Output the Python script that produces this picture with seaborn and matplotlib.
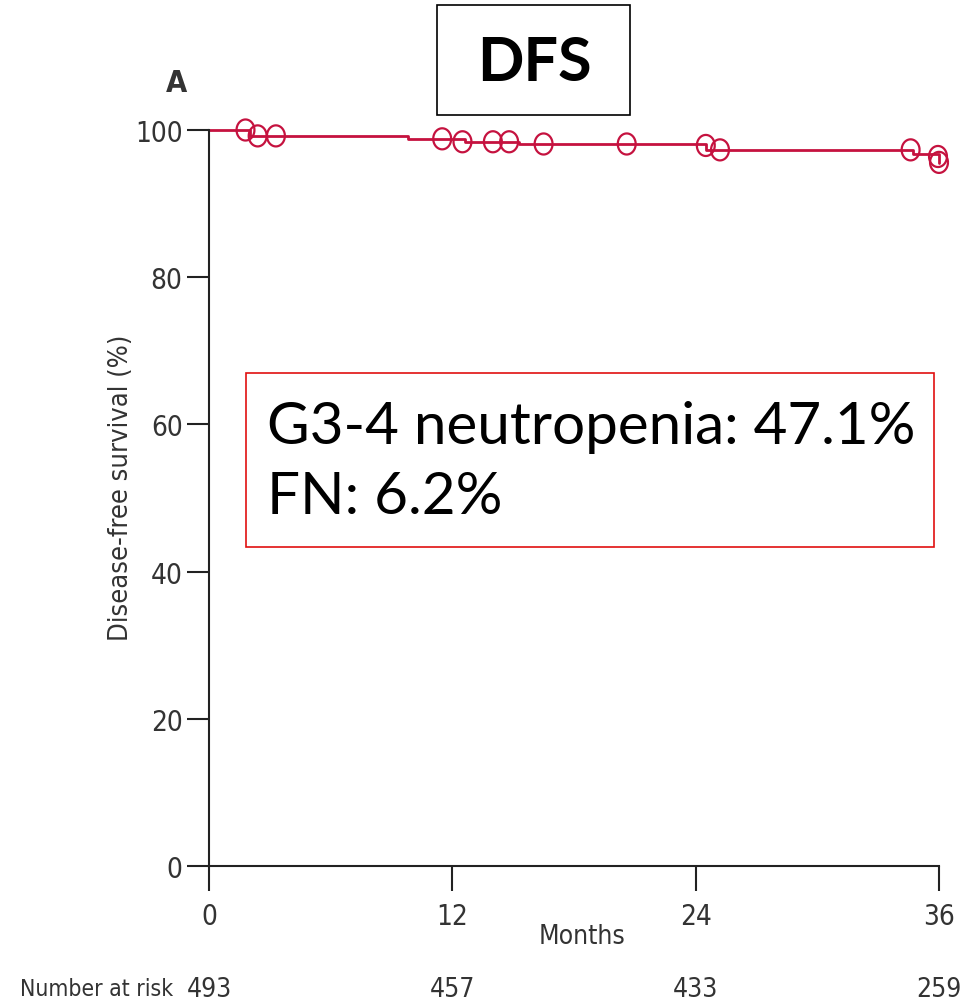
import matplotlib
matplotlib.use("Agg")
import matplotlib.pyplot as plt
import matplotlib.transforms as mtransforms
from matplotlib.patches import Rectangle
from matplotlib.path import Path
import numpy as np
import seaborn as sns
import pandas as pd

sns.set_theme(style="white")
plt.rcParams['font.family'] = ['DejaVu Sans']
plt.rcParams['font.stretch'] = 'condensed'

# ---- data ----
step_months = [0, 2.0, 9.8, 12.6, 15.3, 24.5, 34.7, 36.0]
step_surv = [100.0, 99.2, 98.8, 98.4, 98.1, 97.3, 96.8, 95.5]
censor_months = [1.8, 2.4, 3.3, 11.5, 12.5, 14.0, 14.8, 16.5, 20.6, 24.5, 25.2, 34.6, 35.95, 36.0]
censor_surv = [100.0, 99.2, 99.2, 98.8, 98.4, 98.4, 98.4, 98.1, 98.1, 97.9, 97.3, 97.3, 96.4, 95.6]
xticks = [0, 12, 24, 36]
yticks = [0, 20, 40, 60, 80, 100]
at_risk = [493, 457, 433, 259]

curve_color = "#C5123F"
W, H = 963, 1004

# slightly tall ellipse marker like the reference
th = np.linspace(0, 2 * np.pi, 60)
ellipse = Path(np.column_stack([0.85 * np.cos(th), np.sin(th)]))

fig = plt.figure(figsize=(W / 100, H / 100), dpi=100)
ax = fig.add_axes([209 / W, 1 - 867 / H, 730 / W, 736 / H])

steps = pd.DataFrame({"month": step_months + [36.0], "surv": step_surv + [step_surv[-1]]})
sns.lineplot(data=steps, x="month", y="surv", drawstyle="steps-post", color=curve_color,
             linewidth=2.0, ax=ax, clip_on=False)
cens = pd.DataFrame({"month": censor_months, "surv": censor_surv})
sns.scatterplot(data=cens, x="month", y="surv", marker=ellipse, s=230, facecolor="none",
                edgecolor=curve_color, linewidth=1.6, ax=ax, clip_on=False, zorder=5)

ax.set_xlim(0, 36)
ax.set_ylim(0, 100)
ax.set_xticks(xticks)
ax.set_yticks(yticks)
ax.set_xticklabels([str(t) for t in xticks], fontsize=20, color="#333333")
ax.set_yticklabels([str(t) for t in yticks], fontsize=20, color="#333333")
ax.tick_params(axis="y", direction="out", length=16, width=1.5, color="#222222", pad=3, left=True)
ax.tick_params(axis="x", direction="out", length=18, width=1.5, color="#222222", pad=8, bottom=True)
for s in ["top", "right"]:
    ax.spines[s].set_visible(False)
for s in ["left", "bottom"]:
    ax.spines[s].set_color("#222222")
    ax.spines[s].set_linewidth(1.5)
ax.set_xlabel("")
ax.set_ylabel("")
ax.grid(False)

def fx(x):
    return x / W

def fy(y):
    return 1 - y / H

fig.text(fx(582), fy(937), "Months", fontsize=19, color="#333333", ha="center", va="center")
fig.text(fx(121), fy(488), "Disease-free survival (%)", fontsize=19.5, color="#333333",
         ha="center", va="center", rotation=90)
fig.text(fx(176), fy(83), "A", fontsize=22, fontweight="bold", color="#333333", ha="center", va="center")

# number at risk
fig.text(fx(20), fy(990), "Number at risk", fontsize=16.5, color="#333333", ha="left", va="center")
trans = mtransforms.blended_transform_factory(ax.transData, fig.transFigure)
for t, n in zip(xticks, at_risk):
    ax.text(t, fy(990), str(n), transform=trans, fontsize=19, color="#333333",
            ha="center", va="center", clip_on=False)

# title box
fig.patches.append(Rectangle((fx(437), fy(116)), (630 - 437) / W, (116 - 6) / H,
                             transform=fig.transFigure, fill=False, edgecolor="black", linewidth=1.2))
fig.text(fx(534), fy(63), "DFS", fontsize=44, fontweight="bold", family=["Lato", "DejaVu Sans"],
         fontstretch="normal", ha="center", va="center", color="black")

# annotation box
fig.patches.append(Rectangle((fx(246), fy(548)), (934 - 246) / W, (548 - 374) / H,
                             transform=fig.transFigure, facecolor="white", edgecolor="#E01010",
                             linewidth=1.2, zorder=3))
fig.text(fx(267), fy(428), "G3-4 neutropenia: 47.1%", fontsize=42, family=["Lato", "DejaVu Sans"],
         fontstretch="normal", ha="left", va="center", color="black", zorder=4)
fig.text(fx(267), fy(497), "FN: 6.2%", fontsize=42, family=["Lato", "DejaVu Sans"],
         fontstretch="normal", ha="left", va="center", color="black", zorder=4)

fig.savefig("out.png", dpi=100)
